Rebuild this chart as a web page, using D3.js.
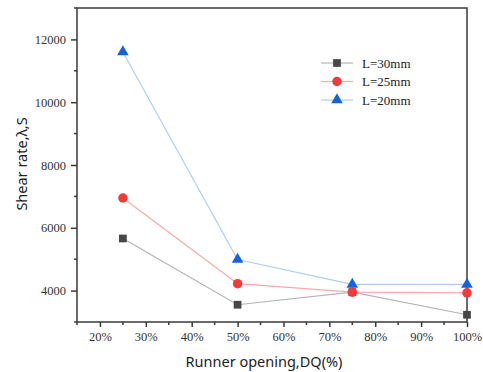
<!DOCTYPE html>
<html><head><meta charset="utf-8">
<script src="https://cdn.jsdelivr.net/npm/d3@7"></script>
<style>body{margin:0;background:#fff}</style>
</head><body>
<svg id="c" width="483" height="372"></svg>
<script>
const openings = [25, 50, 75, 100];
const L30 = [5660, 3550, 3950, 3230];
const L25 = [6950, 4220, 3950, 3930];
const L20 = [11600, 4990, 4200, 4200];
const seriesNames = ["L=30mm", "L=25mm", "L=20mm"];
const xTicks = [20, 30, 40, 50, 60, 70, 80, 90, 100];
const yTicks = [4000, 6000, 8000, 10000, 12000];

(function () {
const svg = d3.select("#c");
const mL = 77, mR = 467, mT = 8, mB = 322;
const x = d3.scaleLinear().domain([15, 100]).range([mL, mR]);
const y = d3.scaleLinear().domain([3000, 13000]).range([mB, mT]);
const serif = "'Liberation Serif', 'DejaVu Serif', serif";

const styles = [
  {name: seriesNames[0], data: L30, line: "#b4b4b4", mark: "#474747", shape: d3.symbolSquare, size: 60},
  {name: seriesNames[1], data: L25, line: "#f9a9a9", mark: "#f23a3a", shape: d3.symbolCircle, size: 70},
  {name: seriesNames[2], data: L20, line: "#b0cdf2", mark: "#1463dc", shape: d3.symbolTriangle, size: 58}
];

// frame
svg.append("rect").attr("x", mL).attr("y", mT).attr("width", mR-mL).attr("height", mB-mT)
  .attr("fill", "none").attr("stroke", "#3a3a3a").attr("stroke-width", 1.5);

// x axis
const xMinor = d3.range(15, 101, 5).filter(v => v % 10 !== 0);
const gx = svg.append("g").attr("transform", `translate(0,${mB})`);
gx.call(d3.axisBottom(x).tickValues(xTicks).tickFormat(d => d + "%").tickSize(5).tickPadding(5));
gx.attr("font-family", serif).attr("font-size", 12.5);
gx.selectAll(".domain").remove();
gx.selectAll(".tick line").attr("stroke", "#3a3a3a").attr("stroke-width", 1.5);
gx.selectAll("text").style("font-family", serif).style("font-size", "12.5px").attr("fill", "#333");
gx.selectAll(".minor").data(xMinor).enter().append("line")
  .attr("x1", d => x(d)).attr("x2", d => x(d)).attr("y1", 0).attr("y2", 3)
  .attr("stroke", "#3a3a3a").attr("stroke-width", 1.5);

// y axis
const yMinor = d3.range(3000, 13001, 1000).filter(v => v % 2000 !== 0);
const gy = svg.append("g").attr("transform", `translate(${mL},0)`);
gy.call(d3.axisLeft(y).tickValues(yTicks).tickFormat(d => d).tickSize(6).tickPadding(5));
gy.attr("font-family", serif).attr("font-size", 12.5);
gy.selectAll(".domain").remove();
gy.selectAll(".tick line").attr("stroke", "#3a3a3a").attr("stroke-width", 1.5);
gy.selectAll("text").style("font-family", serif).style("font-size", "12.5px").attr("fill", "#333");
gy.selectAll(".minor").data(yMinor).enter().append("line")
  .attr("x1", 0).attr("x2", -3).attr("y1", d => y(d)).attr("y2", d => y(d))
  .attr("stroke", "#3a3a3a").attr("stroke-width", 1.5);

// axis titles
svg.append("text").attr("x", 264).attr("y", 367).attr("text-anchor", "middle")
  .attr("font-family", "Noto Sans, sans-serif").attr("font-size", 14.5).attr("fill", "#222")
  .text("Runner opening,DQ(%)");
svg.append("text").attr("transform", "translate(27,164) rotate(-90)").attr("text-anchor", "middle")
  .attr("font-family", "Noto Sans, sans-serif").attr("font-size", 14.5).attr("fill", "#222")
  .text("Shear rate,λ,S");

// series
const line = d3.line().x((d, i) => x(openings[i])).y(d => y(d));
styles.forEach(s => {
  svg.append("path").datum(s.data).attr("d", line).attr("fill", "none")
    .attr("stroke", s.line).attr("stroke-width", 1.2);
});
styles.forEach(s => {
  svg.selectAll(null).data(s.data).enter().append("path")
    .attr("d", d3.symbol().type(s.shape).size(s.size))
    .attr("transform", (d, i) => `translate(${x(openings[i])},${y(d)})`)
    .attr("fill", s.mark);
});

// legend
const lg = svg.append("g");
styles.forEach((s, i) => {
  const yy = 63 + i * 18.5;
  lg.append("line").attr("x1", 321).attr("x2", 353).attr("y1", yy).attr("y2", yy)
    .attr("stroke", s.line).attr("stroke-width", 1.2);
  lg.append("path").attr("d", d3.symbol().type(s.shape).size(s.size))
    .attr("transform", `translate(337,${yy})`).attr("fill", s.mark);
  lg.append("text").attr("x", 362).attr("y", yy + 4.5)
    .style("font-family", serif).style("font-size", "13px").attr("fill", "#222")
    .text(s.name);
});
})();
</script>
</body></html>
